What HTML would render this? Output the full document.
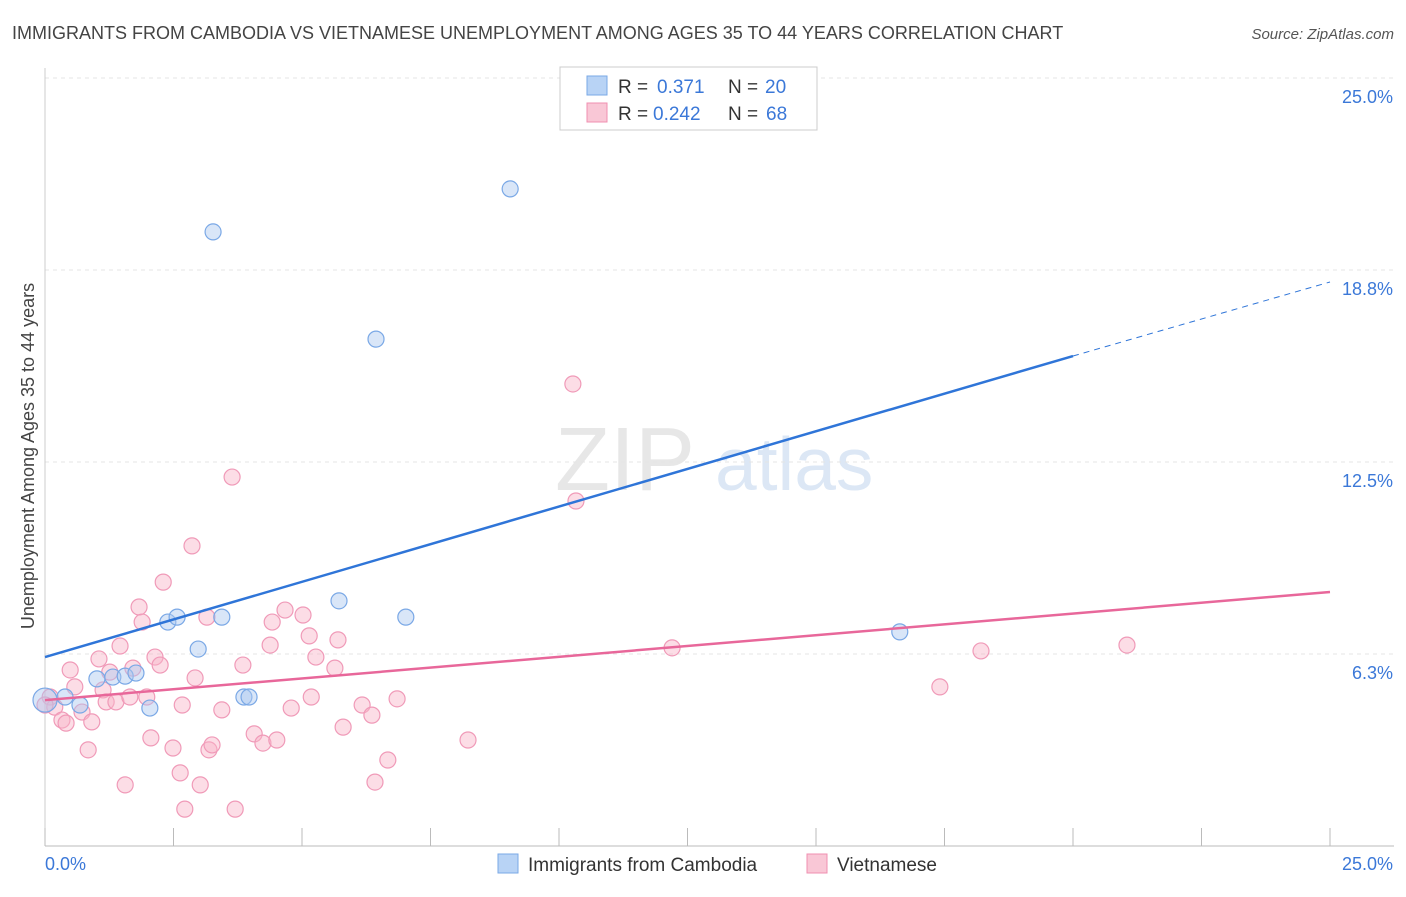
<!DOCTYPE html>
<html><head><meta charset="utf-8"><style>
body{margin:0;background:#fff;font-family:"Liberation Sans",sans-serif}
svg text{font-family:"Liberation Sans",sans-serif}
</style></head><body>
<svg id="chart" width="1406" height="892" xmlns="http://www.w3.org/2000/svg">
<text x="12" y="39" font-size="18" fill="#444">IMMIGRANTS FROM CAMBODIA VS VIETNAMESE UNEMPLOYMENT AMONG AGES 35 TO 44 YEARS CORRELATION CHART</text>
<text x="1394" y="39" font-size="15" fill="#555" text-anchor="end" font-style="italic">Source: ZipAtlas.com</text>
<text transform="translate(34,456) rotate(-90)" font-size="18" fill="#444" text-anchor="middle">Unemployment Among Ages 35 to 44 years</text>
<g>
<text x="555" y="490" font-size="90" fill="#ddd" font-family="Liberation Serif" opacity="0.7">ZIP</text>
<text x="715" y="490" font-size="75" fill="#c5d8ef" opacity="0.6">atlas</text>
</g>
<g id="grid"></g><g id="axes"></g><g id="marks"></g>
<g>
<rect x="560" y="67" width="257" height="63" fill="#fff" stroke="#ccc"/>
<rect x="587" y="76" width="20" height="19" fill="#b8d3f5" stroke="#7aa8e6"/>
<text x="618" y="93" font-size="19" fill="#333">R = </text><text x="657" y="93" font-size="19" fill="#3b78d8">0.371</text>
<text x="728" y="93" font-size="19" fill="#333">N = </text><text x="765" y="93" font-size="19" fill="#3b78d8">20</text>
<rect x="587" y="103" width="20" height="19" fill="#f9c7d6" stroke="#f08fb0"/>
<text x="618" y="120" font-size="19" fill="#333">R = </text><text x="653" y="120" font-size="19" fill="#3b78d8">0.242</text>
<text x="728" y="120" font-size="19" fill="#333">N = </text><text x="766" y="120" font-size="19" fill="#3b78d8">68</text>
</g>
<g>
<rect x="498" y="854" width="20" height="19" fill="#b8d3f5" stroke="#7aa8e6"/>
<text x="528" y="871" font-size="19" fill="#333">Immigrants from Cambodia</text>
<rect x="807" y="854" width="20" height="19" fill="#f9c7d6" stroke="#f08fb0"/>
<text x="837" y="871" font-size="19" fill="#333">Vietnamese</text>
</g>
</svg>
<script>
const yTicks=[6.25,12.5,18.75,25];
const yTickLabels=["6.3%","12.5%","18.8%","25.0%"];
const xTicks=[0,2.5,5,7.5,10,12.5,15,17.5,20,22.5,25];
const cambX=[0,0.39,0.68,1.01,1.32,1.56,1.77,2.04,2.39,2.57,2.98,3.44,3.27,3.87,3.97,5.72,6.44,7.02,9.05,16.63];
const cambY=[4.75,4.85,4.59,5.44,5.50,5.53,5.63,4.49,7.29,7.45,6.41,7.45,19.99,4.85,4.85,7.98,16.50,7.45,21.39,6.97];
const vietX=[0.10,0.19,0.33,0.41,0.49,0.58,0.72,0.84,0.91,1.05,1.13,1.19,1.26,1.38,1.46,1.56,1.65,1.71,1.83,1.89,1.98,2.06,2.14,2.24,2.30,2.49,2.63,2.67,2.72,2.86,2.92,3.02,3.15,3.19,3.25,3.44,3.64,3.70,3.85,4.07,4.24,4.38,4.42,4.51,4.67,4.79,5.02,5.14,5.18,5.27,5.64,5.70,5.80,6.17,6.36,6.42,6.67,6.85,8.23,10.27,10.33,12.20,17.41,18.21,21.05,0];
const vietY=[4.85,4.52,4.10,4.00,5.73,5.18,4.36,3.13,4.04,6.09,5.08,4.69,5.66,4.69,6.51,1.99,4.85,5.79,7.78,7.29,4.85,3.52,6.15,5.89,8.59,3.19,2.38,4.59,1.20,9.77,5.47,1.99,7.45,3.13,3.29,4.43,12.01,1.20,5.89,3.65,3.35,6.54,7.29,3.45,7.68,4.49,7.52,6.84,4.85,6.15,5.79,6.71,3.87,4.59,4.26,2.08,2.80,4.79,3.45,15.04,11.23,6.45,5.18,6.35,6.54,4.59];
const cambTrend=[6.15,15.95,18.36]; // at x=0,20,25
const vietTrend=[4.75,8.27]; // at x=0,25
const X=v=>45+v*51.4, Y=v=>846-v*30.72;
const NS="http://www.w3.org/2000/svg";
function mk(p,t,a){const e=document.createElementNS(NS,t);for(const k in a)e.setAttribute(k,a[k]);p.appendChild(e);return e;}
const grid=document.getElementById('grid'),axes=document.getElementById('axes'),marks=document.getElementById('marks');
yTicks.forEach((v,i)=>{
 const l=mk(grid,'line',{x1:45,x2:1394,y1:Y(v),y2:Y(v),stroke:'#e4e4e4','stroke-dasharray':'4,4'});
 
 
 const t=mk(axes,'text',{x:1393,y:Y(v)+25,'font-size':18,fill:'#3b78d8','text-anchor':'end'});
 t.textContent=yTickLabels[i];
 
 
});
const ax=mk(axes,'line',{x1:45,x2:1394,y1:846,y2:846,stroke:'#bbb'});


const ay=mk(axes,'line',{x1:45,x2:45,y1:68,y2:846,stroke:'#ccc'});


xTicks.forEach(v=>{const l=mk(axes,'line',{x1:X(v),x2:X(v),y1:828,y2:846,stroke:'#bbb'});
 
 });
const xl0=mk(axes,'text',{x:45,y:870,'font-size':18,fill:'#3b78d8'});xl0.textContent='0.0%';


const xl1=mk(axes,'text',{x:1393,y:870,'font-size':18,fill:'#3b78d8','text-anchor':'end'});xl1.textContent='25.0%';


vietX.forEach((v,i)=>{const c=mk(marks,'circle',{cx:X(v),cy:Y(vietY[i]),r:8,fill:'rgba(248,180,200,0.45)',stroke:'#f09ab8','stroke-width':1.2});
 
 });
cambX.forEach((v,i)=>{const c=mk(marks,'circle',{cx:X(v),cy:Y(cambY[i]),r:i==0?12:8,fill:'rgba(170,200,240,0.45)',stroke:'#7aa8e6','stroke-width':1.2});
 
 });
const bt=mk(marks,'line',{x1:X(0),y1:Y(cambTrend[0]),x2:X(20),y2:Y(cambTrend[1]),stroke:'#2f75d8','stroke-width':2.5});


const bd=mk(marks,'line',{x1:X(20),y1:Y(cambTrend[1]),x2:X(25),y2:Y(cambTrend[2]),stroke:'#2f75d8','stroke-width':1,'stroke-dasharray':'6,5'});


const pt=mk(marks,'line',{x1:X(0),y1:Y(vietTrend[0]),x2:X(25),y2:Y(vietTrend[1]),stroke:'#e8679a','stroke-width':2.5});


</script>
</body></html>
